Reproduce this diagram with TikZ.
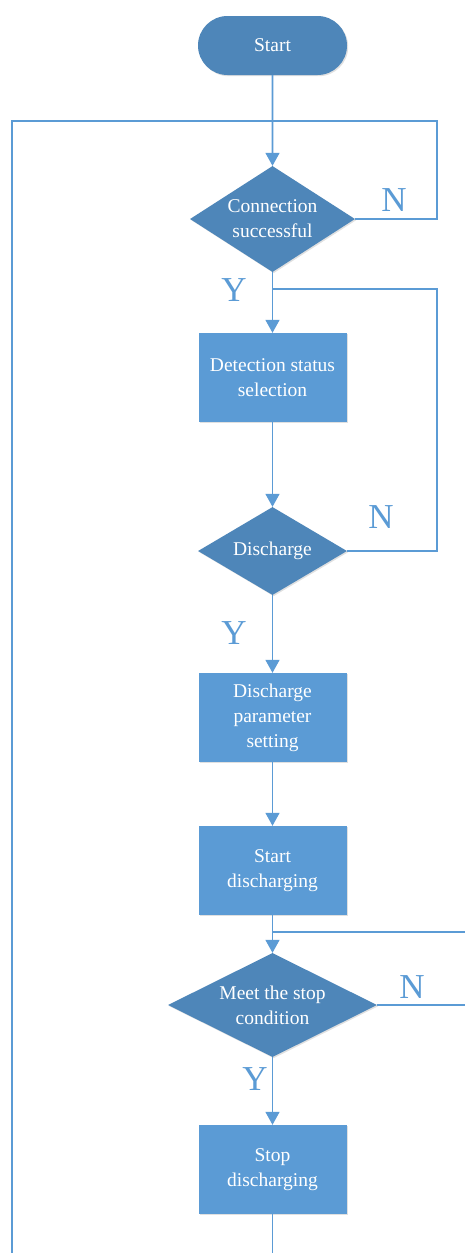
\documentclass[tikz,border=0pt]{standalone}
\usepackage{fontspec}
\setmainfont{Liberation Serif}
\usetikzlibrary{shapes.geometric,shapes.misc,arrows.meta,shadows}
\definecolor{lineblue}{HTML}{5B9BD5}
\definecolor{boxblue}{HTML}{5B9BD5}
\definecolor{diablue}{HTML}{4E86B9}
\tikzset{
  shd/.style={drop shadow={shadow xshift=1.2pt,shadow yshift=-1.2pt,opacity=0.12,fill=black}},
  txt/.style={text=white,font=\fontsize{19.5}{25}\selectfont,align=center},
  procbox/.style={rectangle,fill=boxblue,minimum width=148pt,minimum height=89pt,inner sep=0pt,shd,txt},
  decbox/.style={diamond,fill=diablue,inner sep=0pt,shd},
  termbox/.style={rounded rectangle,fill=diablue,minimum width=149pt,minimum height=59pt,inner sep=0pt,shd,txt},
  dlabel/.style={txt},
  yn/.style={text=lineblue,font=\fontsize{35}{35}\selectfont,inner sep=0pt},
  conn/.style={draw=lineblue,line width=1.6pt},
  arr/.style={conn,-{Triangle[width=14pt,length=13pt]}}
}
\begin{document}
\begin{tikzpicture}[x=1pt,y=-1pt]
\clip (0,0) rectangle (465,1253);
\fill[white] (0,0) rectangle (465,1253);

\node[termbox] (start) at (272.5,45.5) {Start};
\node[decbox,minimum width=165pt,minimum height=106pt,label={[dlabel]center:Connection\\successful}] (d1) at (272.5,219) {};
\node[procbox] (b1) at (272.5,377.5) {Detection status\\selection};
\node[decbox,minimum width=149pt,minimum height=88pt,label={[dlabel]center:Discharge}] (d2) at (272.5,551) {};
\node[procbox] (b2) at (272.5,717.5) {Discharge\\parameter\\setting};
\node[procbox] (b3) at (272.5,870.5) {Start\\discharging};
\node[decbox,minimum width=209pt,minimum height=104pt,label={[dlabel]center:Meet the stop\\condition}] (d3) at (272.5,1005) {};
\node[procbox] (b4) at (272.5,1169.5) {Stop\\discharging};

\coordinate (tr) at (437,121);
\coordinate (tl) at (12,121);
\coordinate (bl) at (12,1268);
\coordinate (bm) at (272.5,1268);
\coordinate (j1) at (272.5,289);
\coordinate (r2) at (437,289);
\coordinate (j3) at (272.5,932);
\coordinate (r3) at (468,932);

\draw[arr] (start) -- (d1);
\draw[arr] (d1) -- (b1);
\draw[arr] (b1) -- (d2);
\draw[arr] (d2) -- (b2);
\draw[arr] (b2) -- (b3);
\draw[arr] (b3) -- (d3);
\draw[arr] (d3) -- (b4);

\draw[conn] (d1.east) -| (tr) -- (tl) -- (bl) -- (bm) -- (b4.south);
\draw[conn] (d2.east) -| (r2) -- (j1);
\draw[conn] (d3.east) -| (r3) -- (j3);

\node[yn] (n1) at (394,200) {N};
\node[yn] (n2) at (381,517) {N};
\node[yn] (n3) at (412,987) {N};
\node[yn] (y1) at (234,290) {Y};
\node[yn] (y2) at (234,633) {Y};
\node[yn] (y3) at (255,1079) {Y};
\end{tikzpicture}
\end{document}
